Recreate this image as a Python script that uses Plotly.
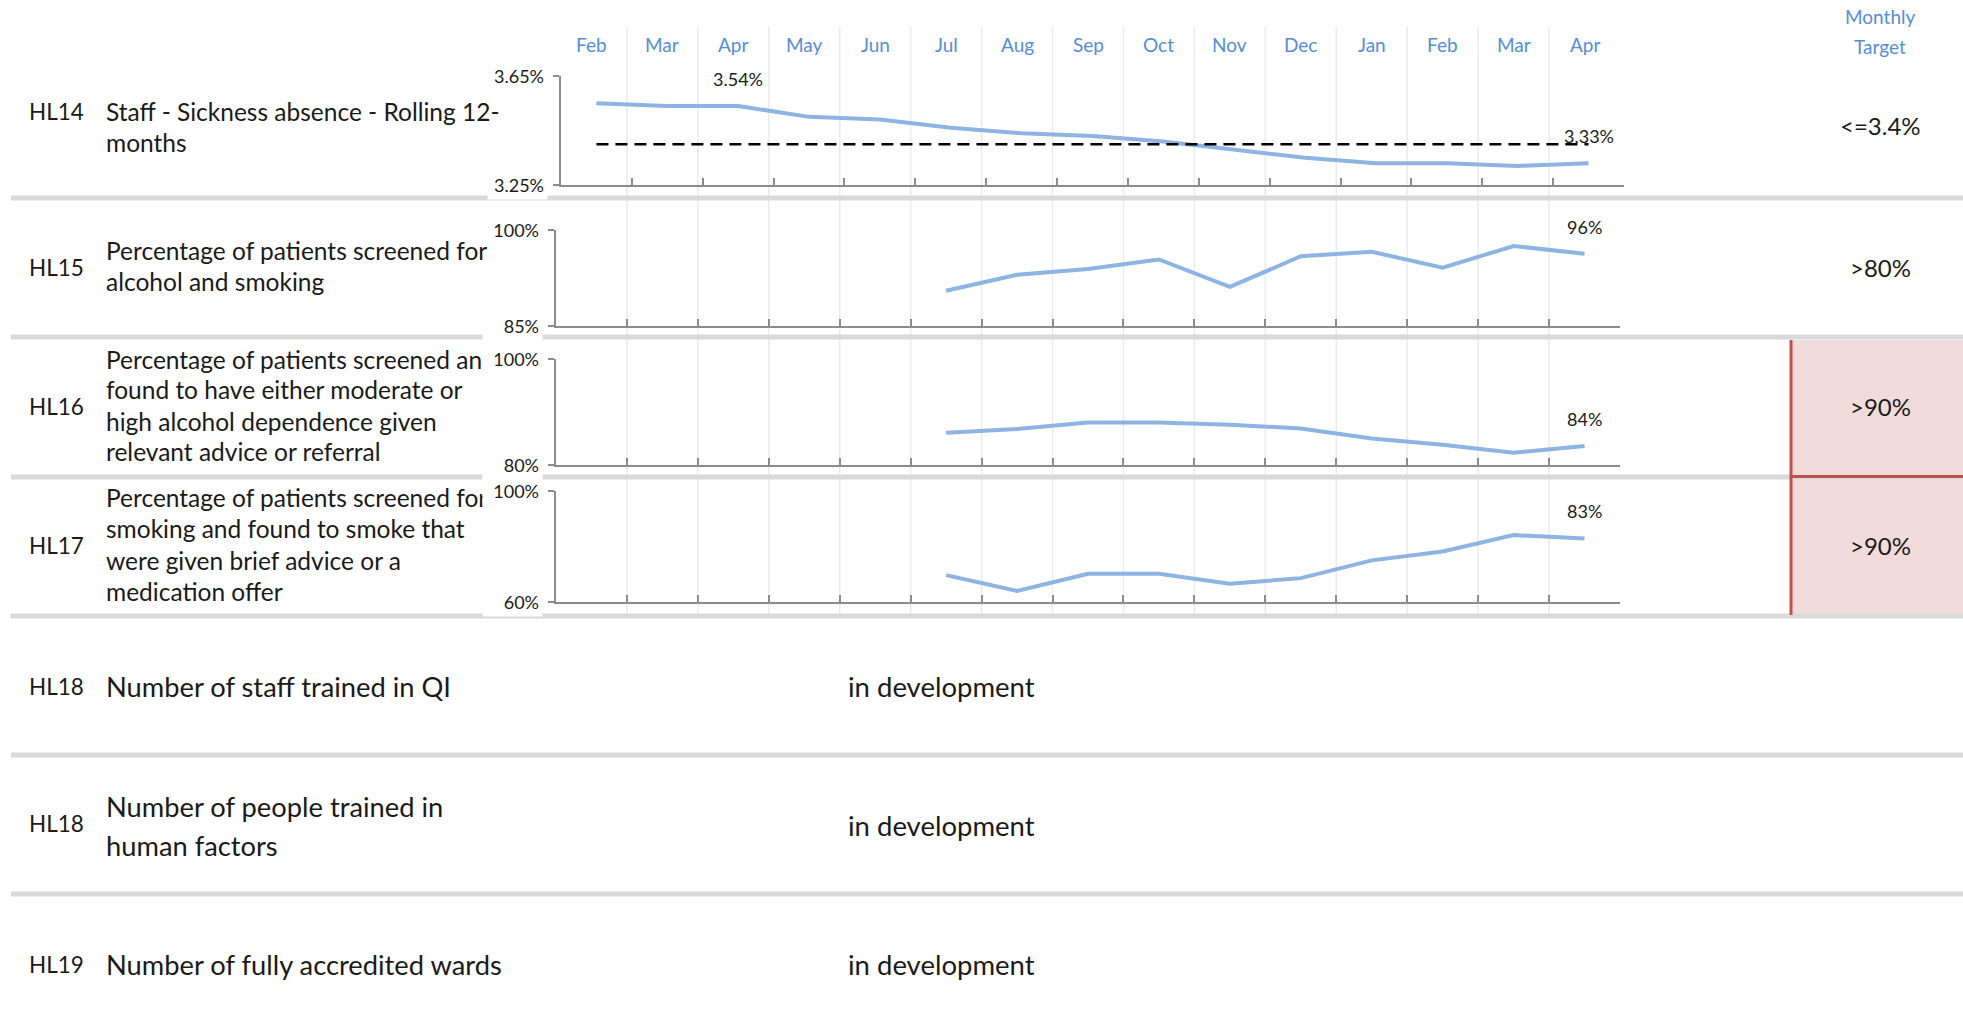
import plotly.graph_objects as go

# ---- data -----------------------------------------------------------------
months = ["Feb", "Mar", "Apr", "May", "Jun", "Jul", "Aug", "Sep",
          "Oct", "Nov", "Dec", "Jan", "Feb", "Mar", "Apr"]

codes = ["HL14", "HL15", "HL16", "HL17", "HL18", "HL18", "HL19"]
descriptions = [
    ["Staff - Sickness absence - Rolling 12-", "months"],
    ["Percentage of patients screened for", "alcohol and smoking"],
    ["Percentage of patients screened and", "found to have either moderate or",
     "high alcohol dependence given", "relevant advice or referral"],
    ["Percentage of patients screened for", "smoking and found to smoke that",
     "were given brief advice or a", "medication offer"],
    ["Number of staff trained in QI"],
    ["Number of people trained in", "human factors"],
    ["Number of fully accredited wards"],
]
targets = ["<=3.4%", ">80%", ">90%", ">90%"]
status_text = "in development"

# HL14 sickness absence (%), rolling 12 months, with its target line
hl14 = [3.55, 3.54, 3.54, 3.50, 3.49, 3.46, 3.44, 3.43, 3.41, 3.38,
        3.35, 3.33, 3.33, 3.32, 3.33]
hl14_target = 3.40
# HL15-HL17 screening percentages (reporting starts in July)
hl15 = [None] * 5 + [90.5, 93.0, 93.9, 95.4, 91.1, 95.9, 96.6, 94.1, 97.5, 96.3]
hl16 = [None] * 5 + [86.1, 86.8, 88.0, 88.0, 87.6, 86.9, 85.0, 83.8, 82.3, 83.6]
hl17 = [None] * 5 + [69.7, 64.0, 70.2, 70.2, 66.6, 68.6, 75.0, 78.2, 84.1, 82.9]

series = [hl14, hl15, hl16, hl17]
y_ranges = [(3.25, 3.65), (85, 100), (80, 100), (60, 100)]
y_tick_text = [("3.25%", "3.65%"), ("85%", "100%"), ("80%", "100%"), ("60%", "100%")]
labelled_points = [[2, 14], [14], [14], [14]]
label_fmt = ["{:.2f}%", "{:.0f}%", "{:.0f}%", "{:.0f}%"]

# ---- layout helpers -------------------------------------------------------
W, H = 1963, 1030
FONT = "Lato"
BLUE_TEXT = "#558ED5"
LINE_BLUE = "#8DB4E2"
AXIS_GREY = "#8C8C8C"
TEXT = "#1a1a1a"


def px(x):
    return x / W


def py(y):
    return 1 - y / H


def paper_text(x, y, text, size, color=TEXT, xanchor="left"):
    return dict(x=px(x), y=py(y), xref="paper", yref="paper",
                xanchor=xanchor, yanchor="middle", showarrow=False,
                text=text, font=dict(size=size, color=color))


# pixel boxes of the four sparkline charts: (left, right, top, bottom)
chart_boxes = [(561, 1624, 76, 185), (556, 1620, 230, 326),
               (556, 1620, 359, 465), (556, 1620, 491, 602)]

fig = go.Figure()
layout = dict(
    width=W, height=H, margin=dict(l=0, r=0, t=0, b=0),
    paper_bgcolor="white", plot_bgcolor="rgba(0,0,0,0)",
    showlegend=False, hovermode=False,
    font=dict(family=FONT, color=TEXT),
)

annotations = []
shapes = []

x_idx = list(range(len(months)))
for i, (vals, box, yr) in enumerate(zip(series, chart_boxes, y_ranges)):
    n = "" if i == 0 else str(i + 1)
    left, right, top, bottom = box
    layout["xaxis" + n] = dict(
        domain=[px(left), px(right)], range=[-0.5, len(months) - 0.5],
        anchor="y" + n, showgrid=False, zeroline=False, showticklabels=False,
        showline=True, linecolor=AXIS_GREY, linewidth=2,
        tickmode="array", tickvals=[k - 0.5 for k in range(len(months) + 1)],
        ticks="inside", ticklen=7, tickwidth=1.5, tickcolor=AXIS_GREY,
    )
    layout["yaxis" + n] = dict(
        domain=[py(bottom), py(top)], range=list(yr), anchor="x" + n,
        showgrid=False, zeroline=False, showticklabels=False,
        showline=True, linecolor=AXIS_GREY, linewidth=2,
        tickmode="array", tickvals=list(yr),
        ticks="outside", ticklen=6, tickwidth=1.5, tickcolor=AXIS_GREY,
    )
    fig.add_trace(go.Scatter(
        x=x_idx, y=vals, mode="lines", xaxis="x" + n, yaxis="y" + n,
        line=dict(color=LINE_BLUE, width=4), connectgaps=False,
    ))
    if i == 0:
        fig.add_trace(go.Scatter(
            x=[x_idx[0], x_idx[-1]], y=[hl14_target] * 2, mode="lines",
            xaxis="x", yaxis="y",
            line=dict(color="black", width=2.5, dash="12px,7px"),
        ))
    for k in labelled_points[i]:
        annotations.append(dict(
            x=k, y=vals[k], xref="x" + n, yref="y" + n, showarrow=False,
            text=label_fmt[i].format(vals[k]), yshift=27,
            font=dict(size=18, color=TEXT),
        ))

# month header labels and vertical column guides
for k, m in enumerate(months):
    annotations.append(dict(
        x=k, y=py(45), xref="x2", yref="paper", xanchor="center",
        yanchor="middle", showarrow=False, text=m,
        font=dict(size=19, color=BLUE_TEXT),
    ))
for k in range(len(months) - 1):
    shapes.append(dict(
        type="line", xref="x2", yref="paper", x0=k + 0.5, x1=k + 0.5,
        y0=py(27), y1=py(616), line=dict(color="#EBEBEB", width=1.5),
        layer="below",
    ))

annotations.append(paper_text(1880, 17, "Monthly", 19, BLUE_TEXT, "center"))
annotations.append(paper_text(1880, 46, "Target", 19, BLUE_TEXT, "center"))

# highlighted target cells for HL16 and HL17
shapes.append(dict(type="rect", xref="paper", yref="paper",
                   x0=px(1791), x1=px(W), y0=py(340), y1=py(614),
                   fillcolor="#F2DCDB", line=dict(width=0), layer="below"))

# row separators
for yb in [198, 337, 477, 616, 755, 894]:
    shapes.append(dict(type="rect", xref="paper", yref="paper",
                       x0=px(11), x1=px(W), y0=py(yb - 2.5), y1=py(yb + 2.5),
                       fillcolor="#D9D9D9", line=dict(width=0), layer="above"))

shapes.append(dict(type="line", xref="paper", yref="paper",
                   x0=px(1791), x1=px(1791), y0=py(340), y1=py(615),
                   line=dict(color="#C0504D", width=3), layer="above"))
shapes.append(dict(type="line", xref="paper", yref="paper",
                   x0=px(1791), x1=px(W), y0=py(476.5), y1=py(476.5),
                   line=dict(color="#C0504D", width=3), layer="above"))

# row text: code, description lines, target / status
code_y = [111, 267, 406, 545, 686, 823, 964]
desc_y = [[111, 143], [250, 282], [359, 389, 421, 451], [498, 528, 560, 591],
          [686], [806, 845], [964]]
desc_size = [24.5, 24.5, 24.5, 24.5, 27.3, 27.3, 27.3]
target_y = [126, 267, 406, 545]
status_y = [686, 825, 964]

for i, code in enumerate(codes):
    annotations.append(paper_text(27, code_y[i], code, 22.5))
    for line, yl in zip(descriptions[i], desc_y[i]):
        annotations.append(paper_text(104, yl, line, desc_size[i]))

for t, yt in zip(targets, target_y):
    annotations.append(paper_text(1880, yt, t, 24, TEXT, "center"))

for ys in status_y:
    annotations.append(paper_text(846, ys, status_text, 27.5))

# y-axis end labels, boxed in white so they sit over the cell text
for i, (box, yr, tt) in enumerate(zip(chart_boxes, y_ranges, y_tick_text)):
    n = "" if i == 0 else str(i + 1)
    for val, txt in zip(yr, tt):
        annotations.append(dict(
            x=px(box[0] - 13), y=val, xref="paper", yref="y" + n,
            xanchor="right", yanchor="middle", showarrow=False, text=txt,
            align="right", width=53, bgcolor="white", borderpad=3,
            font=dict(size=18, color=TEXT),
        ))

layout["annotations"] = annotations
layout["shapes"] = shapes
fig.update_layout(**layout)
fig.write_html("out.html")
